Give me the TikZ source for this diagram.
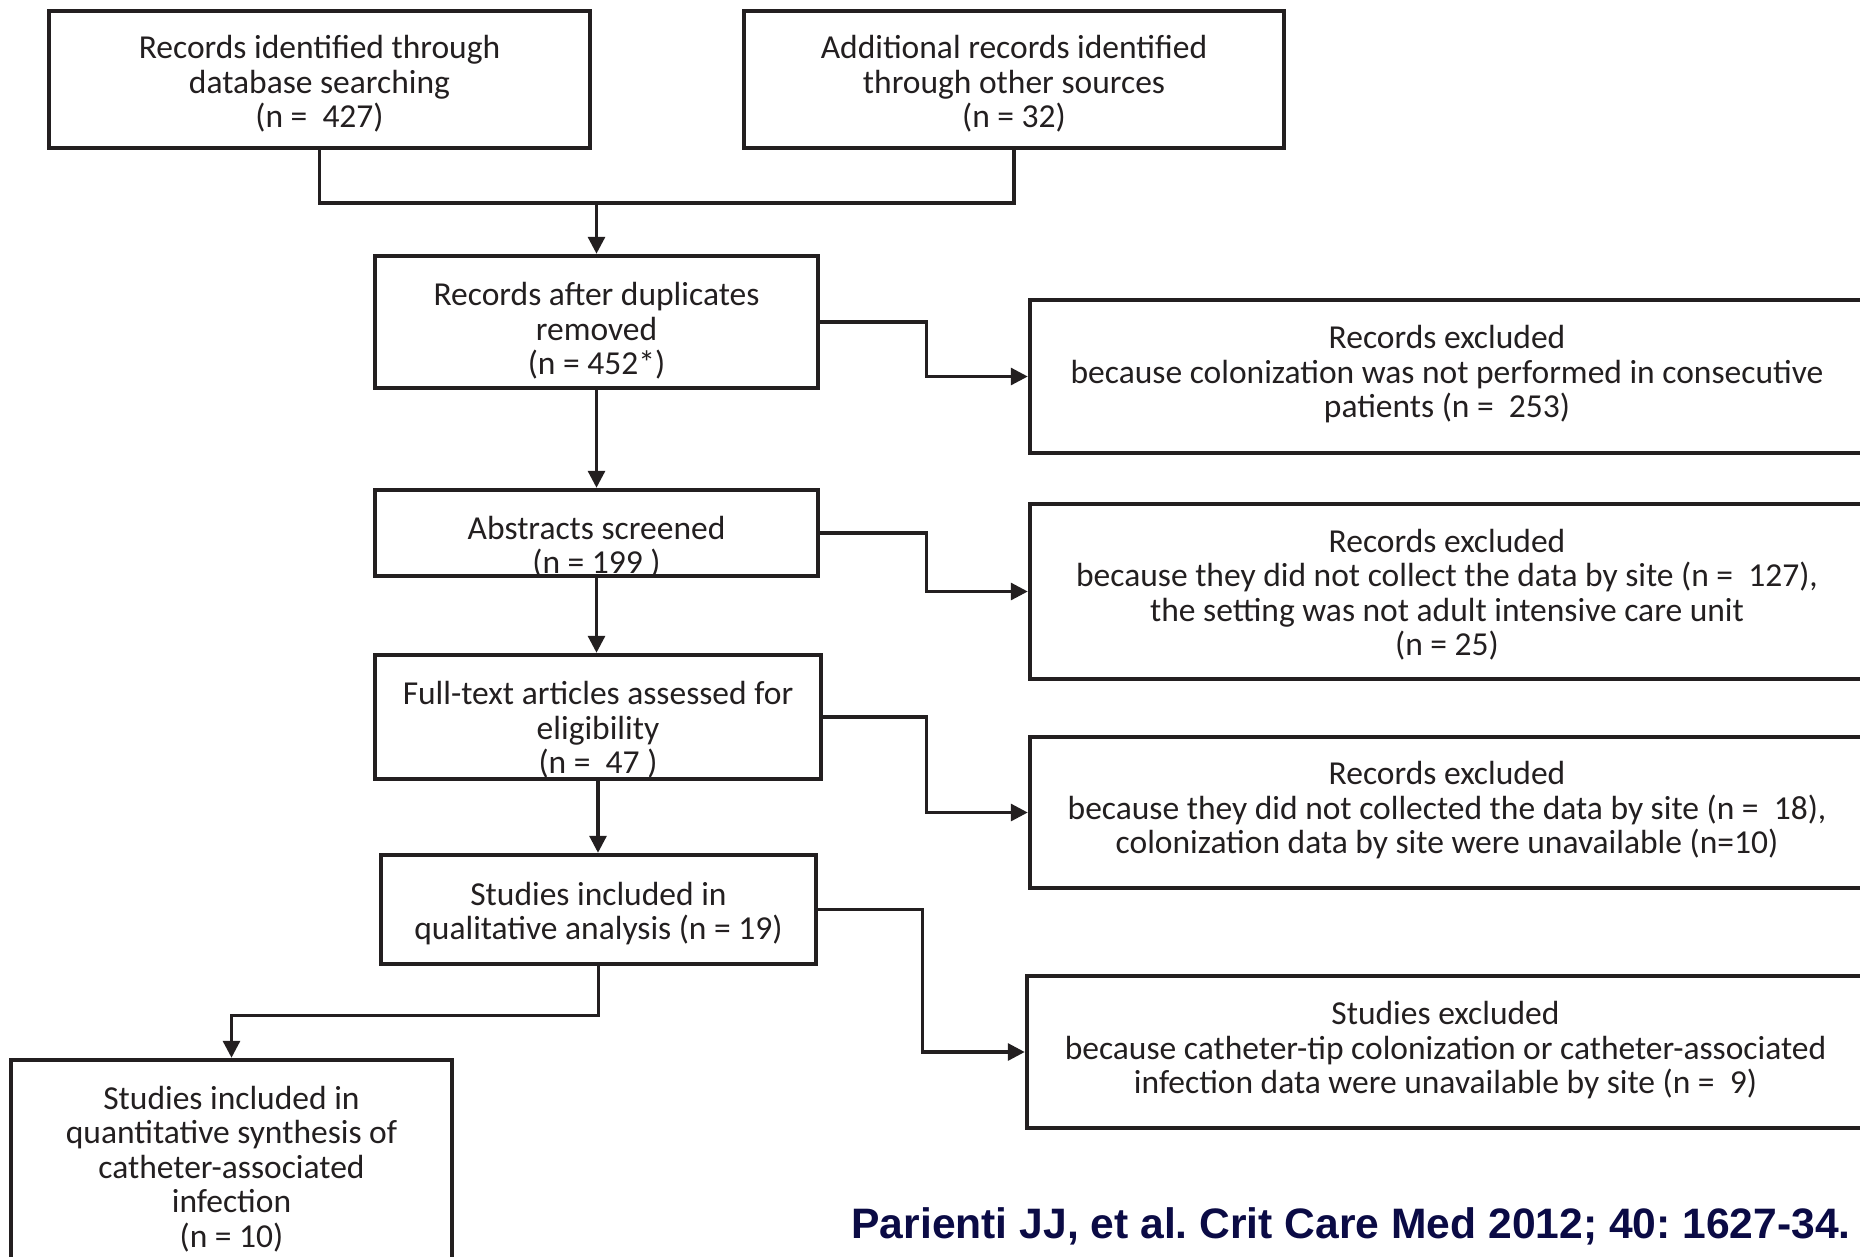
\documentclass[tikz,border=0pt]{standalone}
\usepackage{fontspec}
\setmainfont{Carlito}
\newfontfamily\citefont{Liberation Sans}
\usetikzlibrary{arrows.meta,calc}
\definecolor{ink}{HTML}{231F20}
\definecolor{citeblue}{HTML}{0B0B45}
\begin{document}
\begin{tikzpicture}[x=1pt,y=-1pt,
  box/.style={draw=ink, line width=4.5pt, rectangle, inner sep=0pt, fill=white},
  txt/.style={align=center, text=ink, inner sep=0pt, font=\fontsize{33.5}{34.5}\selectfont},
  conn/.style={draw=ink, line width=3.2pt},
  arr/.style={conn, -{Triangle[length=17pt,width=17pt]}},
]
\useasboundingbox (0,0) rectangle (1860,1256);
\clip (0,0) rectangle (1860,1256);
\fill[white] (0,0) rectangle (1860,1256);

% boxes
\node[box, minimum width=541pt, minimum height=137pt] (b1) at (319.5,79.5) {};
\node[box, minimum width=540pt, minimum height=137pt] (b2) at (1014,79.5) {};
\node[box, minimum width=443pt, minimum height=132pt] (b3) at (596.5,322) {};
\node[box, minimum width=443pt, minimum height=86pt] (b4) at (596.5,533) {};
\node[box, minimum width=446pt, minimum height=124pt] (b5) at (598,717) {};
\node[box, minimum width=435pt, minimum height=109pt] (b6) at (598.5,909.5) {};
\node[box, minimum width=441pt, minimum height=212pt] (b7) at (231.5,1166) {};
\node[box, minimum width=834pt, minimum height=153pt] (e1) at (1447,376.5) {};
\node[box, minimum width=834pt, minimum height=175pt] (e2) at (1447,591.5) {};
\node[box, minimum width=834pt, minimum height=151pt] (e3) at (1447,812.5) {};
\node[box, minimum width=837pt, minimum height=152pt] (e4) at (1445.5,1052) {};

% texts
\node[txt] (t1) at ($(b1.center)+(0,4.5)$) {Records identified through\\database searching\\(n =\ \ 427)};
\node[txt] (t2) at ($(b2.center)+(0,4.5)$) {Additional records identified\\through other sources\\(n = 32)};
\node[txt] (t3) at ($(b3.center)+(0,9)$) {Records after duplicates\\removed\\(n = 452*)};
\node[txt] (t4) at ($(b4.center)+(0,14)$) {Abstracts screened\\(n = 199 )};
\node[txt] (t5) at ($(b5.center)+(0,13)$) {Full-text articles assessed for\\eligibility\\(n =\ \ 47 )};
\node[txt] (t6) at ($(b6.center)+(0,4)$) {Studies included in\\qualitative analysis (n = 19)};
\node[txt] (t7) at ($(b7.center)+(0,3)$) {Studies included in\\quantitative synthesis of\\catheter-associated\\infection\\(n = 10)};
\node[txt] (s1) at ($(e1.center)+(0,-2)$) {Records excluded\\because colonization was not performed in consecutive\\patients (n =\ \ 253)};
\node[txt] (s2) at ($(e2.center)+(0,3)$) {Records excluded\\because they did not collect the data by site (n =\ \ 127),\\the setting was not adult intensive care unit\\(n = 25)};
\node[txt] (s3) at ($(e3.center)+(0,-2)$) {Records excluded\\because they did not collected the data by site (n =\ \ 18),\\colonization data by site were unavailable (n=10)};
\node[txt] (s4) at ($(e4.center)+(0,-1.5)$) {Studies excluded\\because catheter-tip colonization or catheter-associated\\infection data were unavailable by site (n =\ \ 9)};

% connectors
\coordinate (j) at (b3.north |- 0,203);
\draw[conn] (b1.south) |- (j) -| (b2.south);
\draw[arr] (j) -- (b3.north);
\draw[arr] (b3.south) -- (b4.north);
\draw[arr] (b4.south) -- (b4.south |- b5.north);
\draw[arr] (b5.south) -- (b5.south |- b6.north);
\draw[arr] (b6.south) -- ++(0,49) -| (b7.north);
\draw[arr] (b3.east) -- ++(106,0) |- (e1.west);
\draw[arr] (b4.east) -- ++(106,0) |- (e2.west);
\draw[arr] (b5.east) -- ++(103,0) |- (e3.west);
\draw[arr] (b6.east) -- ++(104,0) |- (e4.west);

% citation
\node[anchor=base east, inner sep=0pt, text=citeblue, font=\citefont\bfseries\fontsize{42.6}{48}\selectfont] (cite) at (1851,1238) {\frenchspacing Parienti JJ, et al. Crit Care Med 2012; 40: 1627-34.};
\end{tikzpicture}
\end{document}
